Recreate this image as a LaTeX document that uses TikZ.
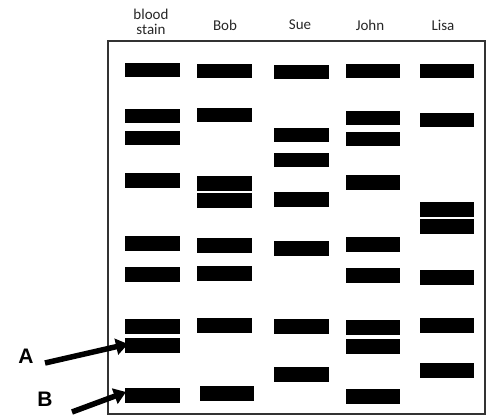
\documentclass[tikz,border=0pt]{standalone}
\usepackage{fontspec}
\setmainfont{Carlito}
\newfontfamily\labfont{Liberation Sans}
\usetikzlibrary{arrows.meta}
\tikzset{
  band/.style={fill=black},
  head/.style={font=\fontsize{15}{15}\selectfont, text=black!85, align=center, inner sep=0pt},
  letter/.style={font=\labfont\bfseries\fontsize{21}{22}\selectfont, inner sep=0pt},
  pointer/.style={line width=5.5pt, -{Triangle[length=12pt,width=16pt]}}
}
\newcommand{\bandat}[3]{\fill[band] (#1,#3) rectangle (#2,#3+14.5);}
\begin{document}
\begin{tikzpicture}[x=1pt,y=-1pt]
\useasboundingbox (0,0) rectangle (490,417);
\draw[line width=1.3pt, draw=black!80] (108,41) rectangle (485,414);
% headers
\node[head] (hblood) at (151,22) {blood\\stain};
\node[head] (hbob) at (225,25) {Bob};
\node[head] (hsue) at (300,25) {Sue};
\node[head] (hjohn) at (370,25) {John};
\node[head] (hlisa) at (443,25) {Lisa};
% blood stain
\foreach \y in {63,109,131,173,236,267,319,338,388} {\bandat{125}{180}{\y}}
% Bob
\foreach \y in {64,108,176,193,238,266,318} {\bandat{197}{252}{\y}}
\bandat{200}{254}{386}
% Sue
\foreach \y in {65,128,153,192,241,319,367} {\bandat{274}{329}{\y}}
% John
\foreach \y in {64,111,132,175,237,268,320,339,389} {\bandat{346}{400}{\y}}
% Lisa
\foreach \y in {64,113,202,219,270,318,363} {\bandat{420}{474}{\y}}
% labels and pointers
\node[letter] (A) at (26,356) {A};
\node[letter] (B) at (45,399) {B};
\coordinate (As) at (45,363);
\coordinate (At) at (128,344);
\coordinate (Bs) at (72,412);
\coordinate (Bt) at (126,392);
\draw[pointer] (As) -- (At);
\draw[pointer] (Bs) -- (Bt);
\end{tikzpicture}
\end{document}
